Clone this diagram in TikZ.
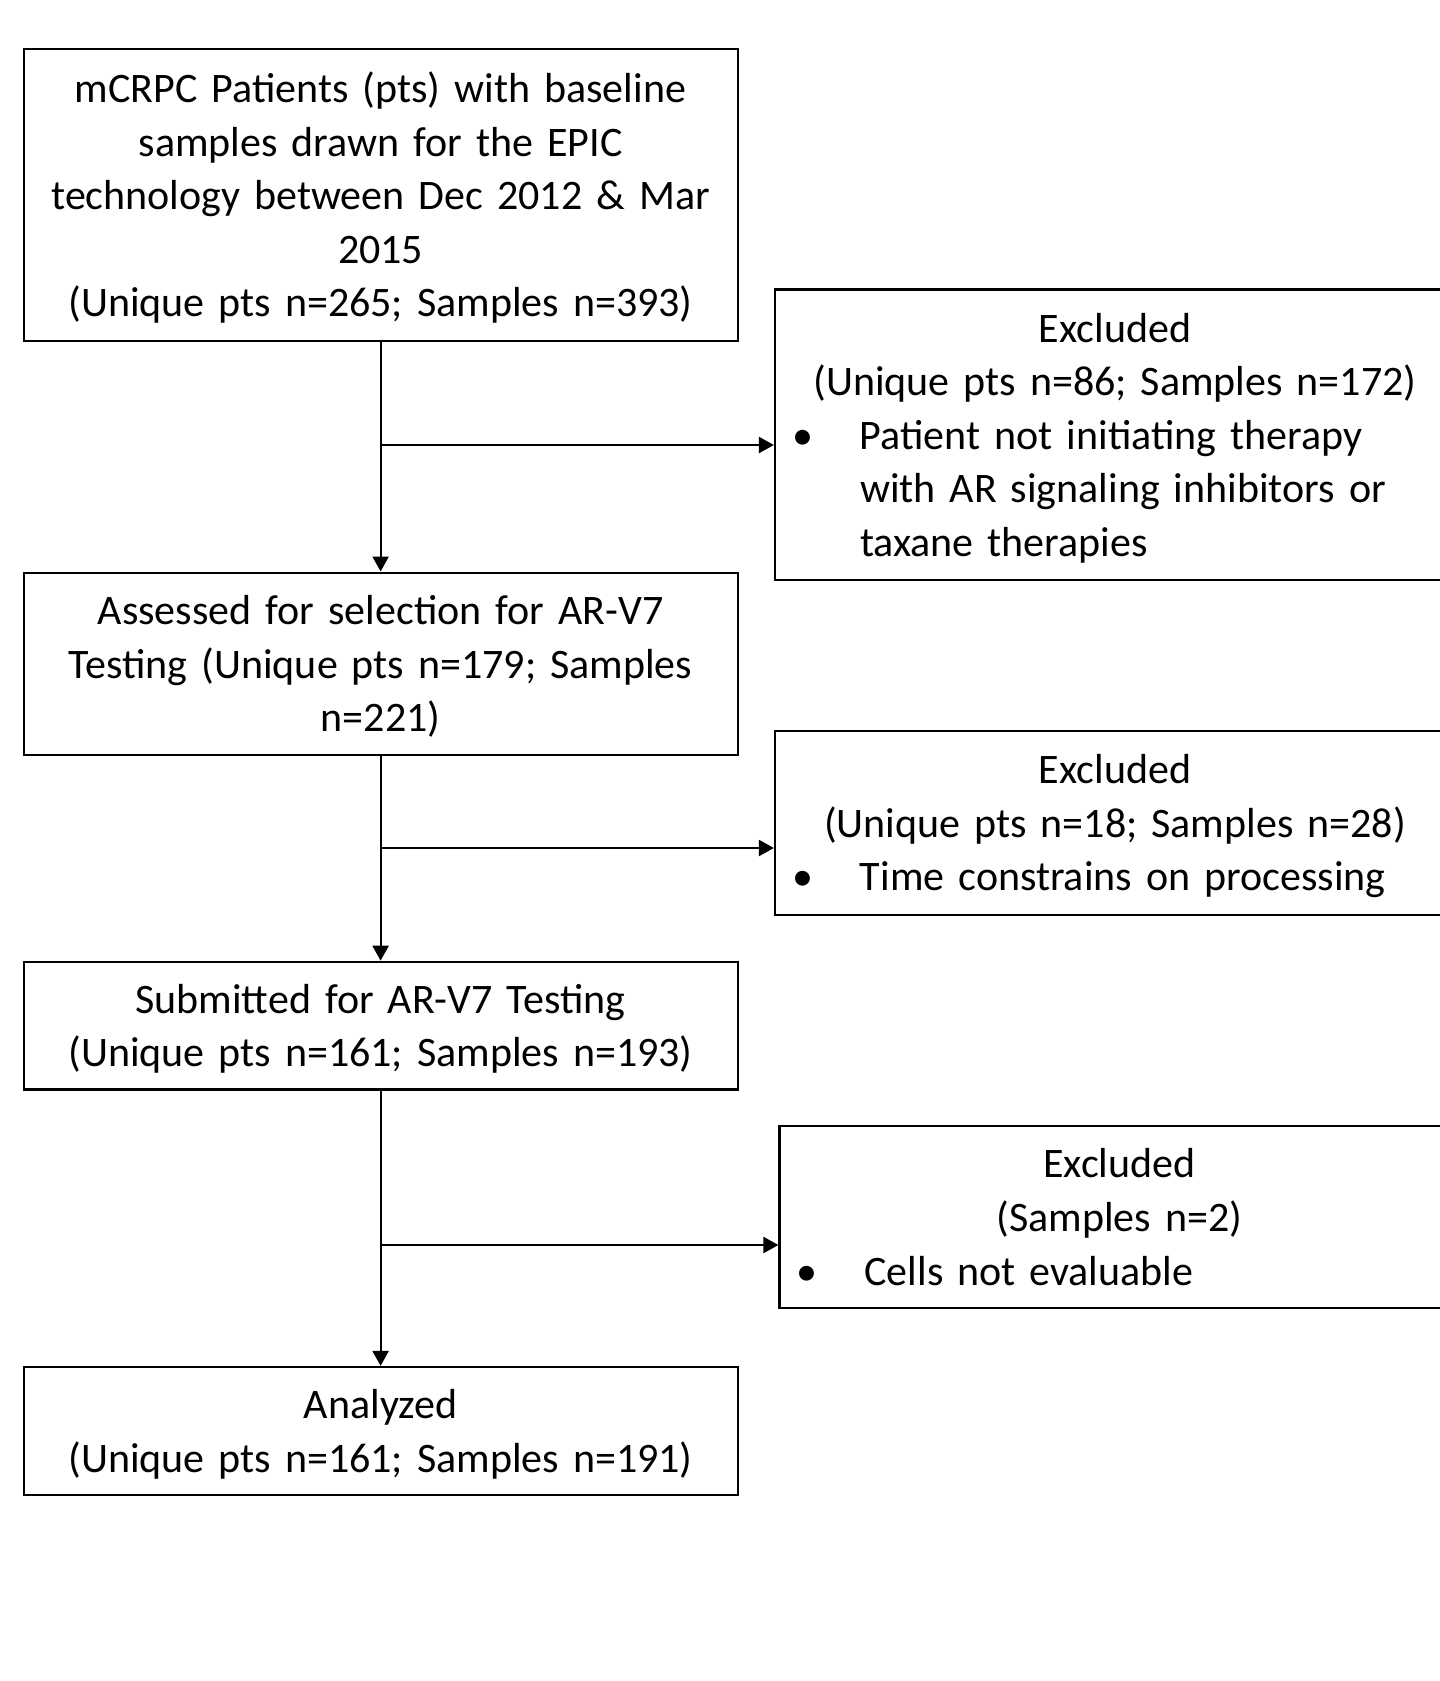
\documentclass[tikz,border=0pt]{standalone}
\usepackage{fontspec}
\setmainfont{Carlito}
\usepackage{xcolor}
\usepackage{tikz}
\usetikzlibrary{arrows.meta, positioning, calc}

\newcommand{\exitem}[1]{\makebox[340pt][l]{\makebox[42.5pt][l]{\hspace{8.6pt}\textbullet}%
  \begin{tabular}[t]{@{}l@{}}#1\end{tabular}}}
\newcommand{\topstrut}{\rule{0pt}{22.5pt}}

\begin{document}
\begin{tikzpicture}[
  x=0.5pt, y=-0.5pt,
  every node/.style={font=\fontsize{21}{26.8}\selectfont},
  stage/.style={rectangle, draw=black, line width=1.1pt, inner sep=0pt,
                text width=357pt, minimum width=357pt, align=center,
                execute at begin node=\topstrut, execute at end node=\strut},
  excl/.style={rectangle, draw=black, line width=1.1pt, inner sep=0pt,
               text width=340pt, minimum width=340pt, align=center,
               execute at begin node=\topstrut, execute at end node=\strut},
  arr/.style={line width=1.1pt, -{Triangle[length=7.5pt, width=8pt]}}
]
\useasboundingbox (0,0) rectangle (1440,1681);

% main flow
\node[stage, minimum height=145.9pt] (s1) at (380.6,195.2)
  {mCRPC Patients (pts) with baseline\\samples drawn for the EPIC\\
   technology between Dec 2012 \& Mar\\2015\\(Unique pts n=265; Samples n=393)};
\node[stage, minimum height=91.1pt] (s2) at (380.6,663.7)
  {Assessed for selection for AR-V7\\Testing (Unique pts n=179; Samples\\n=221)};
\node[stage, minimum height=63.8pt] (s3) at (380.6,1025.6)
  {Submitted for AR-V7 Testing\\(Unique pts n=161; Samples n=193)};
\node[stage, minimum height=63.9pt] (s4) at (380.6,1430.9)
  {Analyzed\\(Unique pts n=161; Samples n=191)};

% exclusions
\node[excl, minimum height=145.3pt] (ex1) at (1115,434.8)
  {Excluded\\(Unique pts n=86; Samples n=172)\\
   \exitem{Patient not initiating therapy\\with AR signaling inhibitors or\\taxane therapies}};
\node[excl, minimum height=91.8pt] (ex2) at (1115,822.8)
  {Excluded\\(Unique pts n=18; Samples n=28)\\
   \exitem{Time constrains on processing}};
\node[excl, minimum height=91.1pt] (ex3) at (1119.5,1217)
  {Excluded\\(Samples n=2)\\
   \exitem{Cells not evaluable}};

\draw[arr] (s1) -- (s2);
\draw[arr] (s2) -- (s3);
\draw[arr] (s3) -- (s4);

\coordinate (br1) at (380.6,445);
\coordinate (br2) at (380.6,848);
\coordinate (br3) at (380.6,1245);
\draw[arr] (br1) -- (br1 -| ex1.west);
\draw[arr] (br2) -- (br2 -| ex2.west);
\draw[arr] (br3) -- (br3 -| ex3.west);
\end{tikzpicture}
\end{document}
